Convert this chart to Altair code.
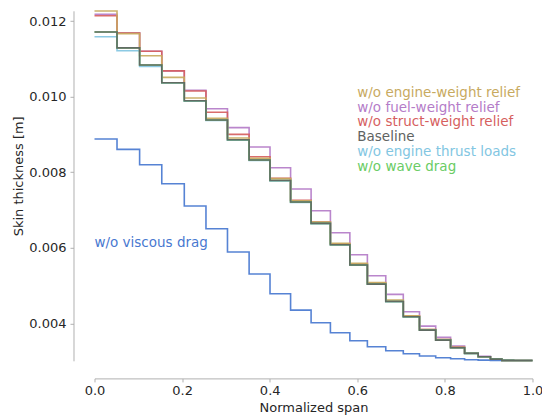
import altair as alt
import pandas as pd

# panel edges along normalized span
edges = [0.0, 0.0514, 0.103, 0.1536, 0.205, 0.2545, 0.3036, 0.353, 0.4007, 0.4477,
         0.4945, 0.5386, 0.583, 0.623, 0.665, 0.705, 0.742, 0.779, 0.813, 0.845,
         0.876, 0.904, 0.930, 0.957, 0.980, 1.0]

viscous = [0.008878, 0.008605, 0.008199, 0.007696, 0.007106, 0.006506, 0.005889, 0.005307,
           0.004786, 0.004354, 0.004019, 0.003754, 0.003542, 0.003384, 0.003278, 0.003198,
           0.003138, 0.003093, 0.003066, 0.003040, 0.003030, 0.003024, 0.003021, 0.003020, 0.003020]
fuel = [0.012177, 0.011690, 0.011200, 0.010680, 0.010170, 0.009680, 0.009180, 0.008667,
        0.008120, 0.007556, 0.006981, 0.006400, 0.005818, 0.005262, 0.004770, 0.004310,
        0.003931, 0.003632, 0.003402, 0.003225, 0.003135, 0.003065, 0.003025, 0.003021, 0.003020]
struct = [0.012140, 0.011683, 0.011200, 0.010680, 0.010148, 0.009585, 0.009002, 0.008410,
          0.007839, 0.007260, 0.006680, 0.006110, 0.005570, 0.005065, 0.004600, 0.004195,
          0.003840, 0.003572, 0.003368, 0.003214, 0.003122, 0.003060, 0.003022, 0.003020, 0.003020]
engine_w = [0.012265, 0.011665, 0.011082, 0.010510, 0.009963, 0.009430, 0.008905, 0.008368,
            0.007830, 0.007246, 0.006680, 0.006118, 0.005590, 0.005085, 0.004620, 0.004200,
            0.003840, 0.003572, 0.003368, 0.003214, 0.003122, 0.003060, 0.003022, 0.003020, 0.003020]
thrust = [0.011585, 0.011214, 0.010800, 0.010360, 0.009882, 0.009371, 0.008850, 0.008313,
          0.007770, 0.007202, 0.006640, 0.006075, 0.005540, 0.005038, 0.004577, 0.004176,
          0.003823, 0.003560, 0.003359, 0.003208, 0.003119, 0.003058, 0.003023, 0.003020, 0.003020]
wave = [0.011709, 0.011290, 0.010836, 0.010368, 0.009892, 0.009381, 0.008860, 0.008323,
        0.007780, 0.007212, 0.006648, 0.006082, 0.005545, 0.005042, 0.004580, 0.004178,
        0.003825, 0.003561, 0.003360, 0.003209, 0.003119, 0.003058, 0.003023, 0.003020, 0.003020]
baseline = [0.011709, 0.011290, 0.010836, 0.010368, 0.009892, 0.009381, 0.008860, 0.008323,
            0.007780, 0.007212, 0.006648, 0.006082, 0.005545, 0.005042, 0.004580, 0.004178,
            0.003825, 0.003561, 0.003360, 0.003209, 0.003119, 0.003058, 0.003023, 0.003020, 0.003020]

names = ["w/o viscous drag", "w/o fuel-weight relief", "w/o struct-weight relief",
         "w/o engine-weight relief", "w/o engine thrust loads", "w/o wave drag", "Baseline"]
series_vals = [viscous, fuel, struct, engine_w, thrust, wave, baseline]
colors = ["#4878d0", "#b47cc8", "#d65f5f", "#c8aa5f", "#82c6e2", "#6acc64", "#5f6362"]
widths = [1.6, 1.6, 1.6, 1.8, 1.6, 1.6, 2.2]

# annotation texts and their positions in data units
legend_names = ["w/o engine-weight relief", "w/o fuel-weight relief", "w/o struct-weight relief",
                "Baseline", "w/o engine thrust loads", "w/o wave drag"]
legend_x = [0.6, 0.6, 0.6, 0.6, 0.6, 0.6]
legend_y = [0.01010, 0.00971, 0.00933, 0.00893, 0.00853, 0.00814]
visc_label_x = 0.0
visc_label_y = 0.00613

y_ticks = [0.004, 0.006, 0.008, 0.010, 0.012]
x_ticks = [0.0, 0.2, 0.4, 0.6, 0.8, 1.0]

rows = []
for k, (nm, vals) in enumerate(zip(names, series_vals)):
    ys = list(vals) + [vals[-1]]
    for i, (xe, yv) in enumerate(zip(edges, ys)):
        rows.append({"series": nm, "x": xe, "y": yv, "k": k, "i": i})
df = pd.DataFrame(rows)

lab_rows = [{"series": n, "x": lx, "y": ly} for n, lx, ly in zip(legend_names, legend_x, legend_y)]
lab_rows.append({"series": "w/o viscous drag", "x": visc_label_x, "y": visc_label_y})
labels = pd.DataFrame(lab_rows)

FONT = "DejaVu Sans"
color_scale = alt.Scale(domain=names, range=colors)
xs = alt.Scale(domain=[0, 1], nice=False, zero=False)
ys_ = alt.Scale(domain=[0.003013, 0.01227], nice=False, zero=False)

axis_common = dict(grid=False, domainColor="#b0b0b0", tickColor="#b0b0b0", tickSize=3.5,
                   labelFont=FONT, labelFontSize=13, labelColor="#262626", labelFlush=False,
                   labelOverlap=False,
                   titleFont=FONT, titleFontSize=13, titleColor="#262626", titleFontWeight="normal")

lines = alt.Chart(df).mark_line(interpolate="step-after", opacity=0.92).encode(
    x=alt.X("x:Q", scale=xs, axis=alt.Axis(values=x_ticks, format=".1f", title="Normalized span",
                                            offset=17.6, labelPadding=3, titleX=219, titleY=33.2,
                                            titleBaseline="alphabetic", **axis_common)),
    y=alt.Y("y:Q", scale=ys_, axis=alt.Axis(values=y_ticks, format=".3f", title="Skin thickness [m]",
                                             offset=21, labelPadding=4, titleX=-51, titleY=165,
                                             titleAngle=-90, titleAlign="center", titleBaseline="alphabetic",
                                             **axis_common)),
    color=alt.Color("series:N", scale=color_scale, legend=None),
    size=alt.Size("series:N", scale=alt.Scale(domain=names, range=widths), legend=None),
    detail="k:N",
    order="i:Q",
)

texts = alt.Chart(labels).mark_text(align="left", baseline="middle", font=FONT, fontSize=13.5).encode(
    x=alt.X("x:Q", scale=xs),
    y=alt.Y("y:Q", scale=ys_),
    text="series:N",
    color=alt.Color("series:N", scale=color_scale, legend=None),
)

chart = alt.layer(lines, texts).properties(
    width=438, height=350,
    padding={"left": 86.5, "top": 2.8, "right": 9.5, "bottom": 55},
    autosize=alt.AutoSizeParams(type="none"),
).configure_view(stroke=None)

chart.save("out.html", embed_options={"renderer": "svg", "actions": False})
